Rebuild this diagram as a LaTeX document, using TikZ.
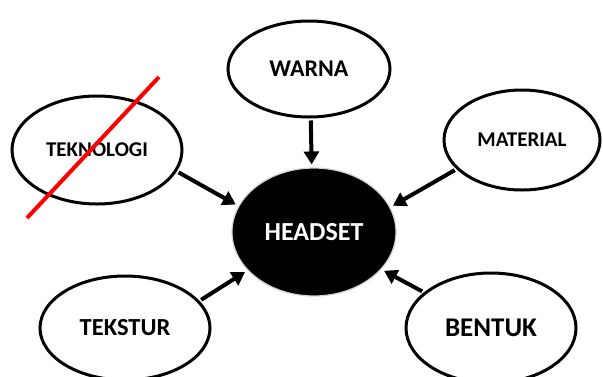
\documentclass[tikz,border=0pt]{standalone}
\usepackage{fontspec}
\setmainfont{Carlito}
\usetikzlibrary{shapes.geometric,arrows.meta}
\begin{document}
\begin{tikzpicture}[x=1pt,y=-1pt,
  oval/.style={ellipse,draw=black,line width=3pt,fill=white,inner sep=0pt,font=\bfseries},
  arr/.style={line width=4pt,-{Triangle[length=13pt,width=15pt]},shorten <=2pt,shorten >=3pt}]
\useasboundingbox (0,0) rectangle (603,376);
\node[oval,minimum width=162pt,minimum height=96pt,font=\bfseries\fontsize{24}{24}\selectfont] (warna) at (309,69) {WARNA};
\node[oval,minimum width=170pt,minimum height=108pt,font=\bfseries\fontsize{21}{21}\selectfont] (teknologi) at (97,150) {TEKNOLOGI};
\node[oval,minimum width=156pt,minimum height=100pt,font=\bfseries\fontsize{21}{21}\selectfont] (material) at (522,140) {MATERIAL};
\node[oval,minimum width=170pt,minimum height=104pt,font=\bfseries\fontsize{24.5}{24.5}\selectfont] (tekstur) at (125,328) {TEKSTUR};
\node[oval,minimum width=170pt,minimum height=110pt,font=\bfseries\fontsize{27}{27}\selectfont] (bentuk) at (491,328) {BENTUK};
\node[ellipse,fill=black,draw=gray!35,line width=1.2pt,inner sep=0pt,minimum width=164pt,minimum height=128pt,text=white,font=\bfseries\fontsize{26}{26}\selectfont] (headset) at (314,232) {HEADSET};
\draw[arr] (warna.-88) -- (headset.92);
\draw[arr] (teknologi.-15) -- (headset.161);
\draw[arr] (material.-156) -- (headset.18);
\draw[arr] (tekstur.20) -- (headset.-150);
\draw[arr] (bentuk.152) -- (headset.-29);
\coordinate (r1) at (159,77);
\coordinate (r2) at (27,218);
\draw[red,line width=4pt] (r1) -- (r2);
\end{tikzpicture}
\end{document}
